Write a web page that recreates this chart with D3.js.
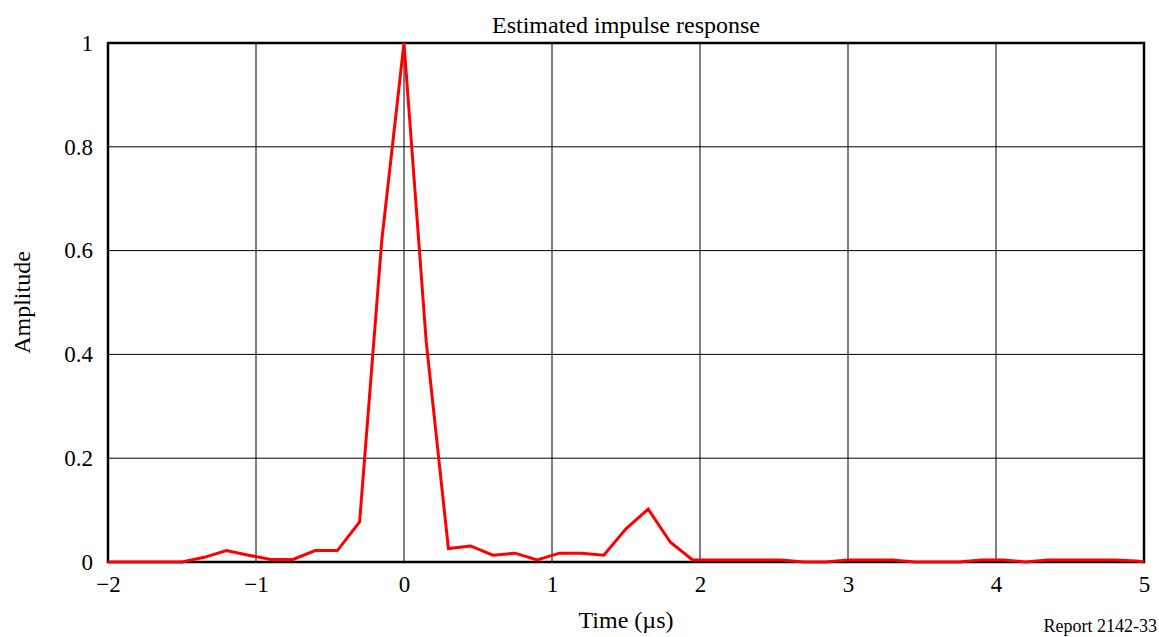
<!DOCTYPE html>
<html><head><meta charset="utf-8">
<script src="https://cdn.jsdelivr.net/npm/d3@7"></script>
<style>body{margin:0;background:#fff;}svg text{font-family:"Liberation Serif","Times New Roman",serif;fill:#000;}</style>
</head><body><svg id="c" width="1159" height="637"></svg>
<script>
const times = [-2,-1.95,-1.8,-1.65,-1.5,-1.35,-1.2,-1.05,-0.9,-0.75,-0.6,-0.45,-0.3,-0.15,0,0.15,0.3,0.45,0.6,0.75,0.9,1.05,1.2,1.35,1.5,1.65,1.8,1.95,2.1,2.25,2.4,2.55,2.7,2.85,3.0,3.15,3.3,3.45,3.6,3.75,3.9,4.05,4.2,4.35,4.5,4.65,4.8,4.95,5];
const amplitude = [0,0,0,0,0,0.009,0.022,0.013,0.005,0.005,0.022,0.022,0.077,0.62,1.0,0.425,0.026,0.031,0.013,0.017,0.004,0.017,0.017,0.013,0.064,0.102,0.038,0.004,0.004,0.004,0.004,0.004,0,0,0.004,0.004,0.004,0,0,0,0.004,0.004,0,0.004,0.004,0.004,0.004,0.002,0];
const xTicks = [-2,-1,0,1,2,3,4,5];
const yTicks = [0,0.2,0.4,0.6,0.8,1];
const title = "Estimated impulse response";
const xLabel = "Time (\u00b5s)";
const yLabel = "Amplitude";
const note = "Report 2142-33";

const svg = d3.select("#c");
const L=108,R=1144,T=43,B=562;
const x = d3.scaleLinear().domain([-2,5]).range([L,R]);
const y = d3.scaleLinear().domain([0,1]).range([B,T]);
const fmt = v => (v<0? "\u2212"+Math.abs(v) : String(v));

// grid
svg.append("g").selectAll("line").data(xTicks).join("line")
  .attr("x1",d=>x(d)).attr("x2",d=>x(d)).attr("y1",T).attr("y2",B)
  .attr("stroke","#000").attr("stroke-width",1);
svg.append("g").selectAll("line").data(yTicks).join("line")
  .attr("x1",L).attr("x2",R).attr("y1",d=>y(d)).attr("y2",d=>y(d))
  .attr("stroke","#000").attr("stroke-width",1);

// axes (labels only)
const xa = svg.append("g").attr("transform",`translate(0,${B})`)
  .call(d3.axisBottom(x).tickValues(xTicks).tickFormat(fmt).tickSize(0).tickPadding(14));
xa.select(".domain").remove();
xa.selectAll("text").attr("font-size",23).attr("font-family","Liberation Serif");
const ya = svg.append("g").attr("transform",`translate(${L},0)`)
  .call(d3.axisLeft(y).tickValues(yTicks).tickFormat(d=>String(d)).tickSize(0).tickPadding(15));
ya.select(".domain").remove();
ya.selectAll("text").attr("font-size",23).attr("font-family","Liberation Serif");

// frame
svg.append("rect").attr("x",L).attr("y",T).attr("width",R-L).attr("height",B-T)
  .attr("fill","none").attr("stroke","#000").attr("stroke-width",2.5);

// line
const pts = times.map((t,i)=>[t,amplitude[i]]);
svg.append("path").datum(pts)
  .attr("d",d3.line().x(d=>x(d[0])).y(d=>y(d[1])))
  .attr("fill","none").attr("stroke","#ff0000").attr("stroke-width",3).attr("stroke-linejoin","miter");

svg.append("text").attr("x",(L+R)/2).attr("y",33).attr("text-anchor","middle").attr("font-size",24).text(title);
svg.append("text").attr("x",(L+R)/2).attr("y",628).attr("text-anchor","middle").attr("font-size",24).text(xLabel);
svg.append("text").attr("transform",`translate(30,${(T+B)/2}) rotate(-90)`).attr("text-anchor","middle").attr("font-size",24).text(yLabel);
svg.append("text").attr("x",1157).attr("y",632).attr("text-anchor","end").attr("font-size",18).text(note);
</script></body></html>
